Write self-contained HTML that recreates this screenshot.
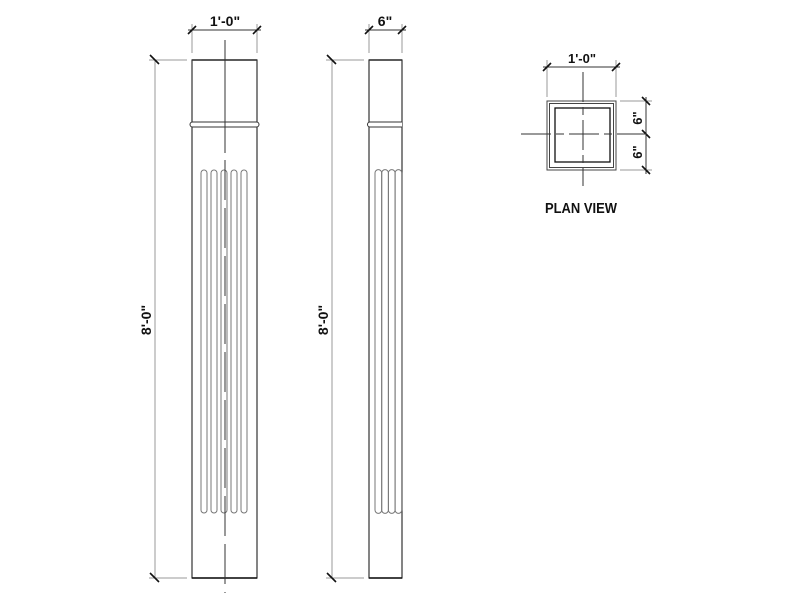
<!DOCTYPE html>
<html><head><style>body{margin:0;background:#fff}svg{display:block}text{font-family:"Liberation Sans",sans-serif;font-weight:bold;fill:#111}</style></head>
<body>
<svg width="800" height="600" viewBox="0 0 800 600" xmlns="http://www.w3.org/2000/svg" fill="none">
<g stroke="#999" stroke-width="1">
<line x1="155" y1="60" x2="155" y2="578"/>
<line x1="149" y1="60" x2="187" y2="60"/>
<line x1="149" y1="578" x2="187" y2="578"/>
<line x1="192" y1="24" x2="192" y2="53"/>
<line x1="257" y1="24" x2="257" y2="53"/>
<line x1="188" y1="30" x2="261" y2="30" stroke="#333"/>
</g>
<g stroke="#111" stroke-width="1.6">
<line x1="150" y1="55" x2="159" y2="64"/><line x1="150" y1="573" x2="159" y2="582"/>
<line x1="188" y1="34" x2="196" y2="26"/><line x1="253" y1="34" x2="261" y2="26"/>
</g>
<text x="225" y="26" font-size="14" text-anchor="middle">1'-0"</text>
<text transform="translate(151,320) rotate(-90)" font-size="14" text-anchor="middle">8'-0"</text>
<rect x="192" y="60" width="65" height="518" stroke="#333" stroke-width="1.2"/>
<line x1="192" y1="60" x2="257" y2="60" stroke="#333" stroke-width="1.5"/>
<line x1="192" y1="578" x2="257" y2="578" stroke="#111" stroke-width="1.5"/>
<rect x="190" y="122" width="69" height="5" rx="2.5" stroke="#333" fill="#fff"/>
<g stroke="#777" stroke-width="1">
<path d="M201 510V173a3 3 0 0 1 6 0V510a3 3 0 0 1-6 0z"/>
<path d="M211 510V173a3 3 0 0 1 6 0V510a3 3 0 0 1-6 0z"/>
<path d="M221 510V173a3 3 0 0 1 6 0V510a3 3 0 0 1-6 0z"/>
<path d="M231 510V173a3 3 0 0 1 6 0V510a3 3 0 0 1-6 0z"/>
<path d="M241 510V173a3 3 0 0 1 6 0V510a3 3 0 0 1-6 0z"/>
</g>
<line x1="225" y1="40" x2="225" y2="153" stroke="#333"/>
<line x1="225" y1="160" x2="225" y2="593" stroke="#333" stroke-dasharray="40 8"/>
<g stroke="#999" stroke-width="1">
<line x1="332" y1="60" x2="332" y2="578"/>
<line x1="326" y1="60" x2="364" y2="60"/>
<line x1="326" y1="578" x2="364" y2="578"/>
<line x1="369" y1="24" x2="369" y2="53"/>
<line x1="402" y1="24" x2="402" y2="53"/>
<line x1="365" y1="30" x2="406" y2="30" stroke="#333"/>
</g>
<g stroke="#111" stroke-width="1.6">
<line x1="327" y1="55" x2="336" y2="64"/><line x1="327" y1="573" x2="336" y2="582"/>
<line x1="365" y1="34" x2="373" y2="26"/><line x1="398" y1="34" x2="406" y2="26"/>
</g>
<text x="385" y="26" font-size="14" text-anchor="middle">6"</text>
<text transform="translate(328,320) rotate(-90)" font-size="14" text-anchor="middle">8'-0"</text>
<rect x="369" y="60" width="33" height="518" stroke="#333" stroke-width="1.2"/>
<line x1="369" y1="60" x2="402" y2="60" stroke="#333" stroke-width="1.5"/>
<line x1="369" y1="578" x2="402" y2="578" stroke="#111" stroke-width="1.5"/>
<path d="M402 122H370a2.5 2.5 0 0 0 0 5H402" stroke="#333" fill="#fff"/>
<g stroke="#777" stroke-width="1">
<path d="M375 510V173a3.3 3.3 0 0 1 6.7 0V510a3.3 3.3 0 0 1-6.7 0z"/>
<path d="M381.7 510V173a3.3 3.3 0 0 1 6.7 0V510a3.3 3.3 0 0 1-6.7 0z"/>
<path d="M388.4 510V173a3.3 3.3 0 0 1 6.7 0V510a3.3 3.3 0 0 1-6.7 0z"/>
<path d="M395.1 510V173a3.3 3.3 0 0 1 6.7 0V510a3.3 3.3 0 0 1-6.7 0z"/>
</g>
<g stroke="#999" stroke-width="1">
<line x1="547" y1="60" x2="547" y2="97"/>
<line x1="616" y1="60" x2="616" y2="97"/>
<line x1="543" y1="67" x2="620" y2="67" stroke="#333"/>
<line x1="620" y1="101" x2="652" y2="101"/>
<line x1="620" y1="170" x2="652" y2="170"/>
<line x1="646" y1="97" x2="646" y2="174" stroke="#333"/>
</g>
<g stroke="#111" stroke-width="1.6">
<line x1="543" y1="71" x2="551" y2="63"/><line x1="612" y1="71" x2="620" y2="63"/>
<line x1="642" y1="97" x2="650" y2="105"/><line x1="642" y1="130" x2="650" y2="138"/><line x1="642" y1="166" x2="650" y2="174"/>
</g>
<text x="582" y="63" font-size="13" text-anchor="middle">1'-0"</text>
<text transform="translate(642,118) rotate(-90)" font-size="13" text-anchor="middle">6"</text>
<text transform="translate(642,152) rotate(-90)" font-size="13" text-anchor="middle">6"</text>
<rect x="547" y="101" width="69" height="69" stroke="#444"/>
<rect x="549.5" y="103.5" width="64" height="64" stroke="#444"/>
<rect x="555" y="108" width="55" height="54" stroke="#111" stroke-width="1.3"/>
<line x1="521" y1="134" x2="652" y2="134" stroke="#333" stroke-dasharray="30 5 8 5"/>
<line x1="583" y1="72" x2="583" y2="186" stroke="#333" stroke-dasharray="30 5 8 5"/>
<text x="581" y="213" font-size="15" text-anchor="middle" textLength="72" lengthAdjust="spacingAndGlyphs">PLAN VIEW</text>
</svg>
</body></html>
